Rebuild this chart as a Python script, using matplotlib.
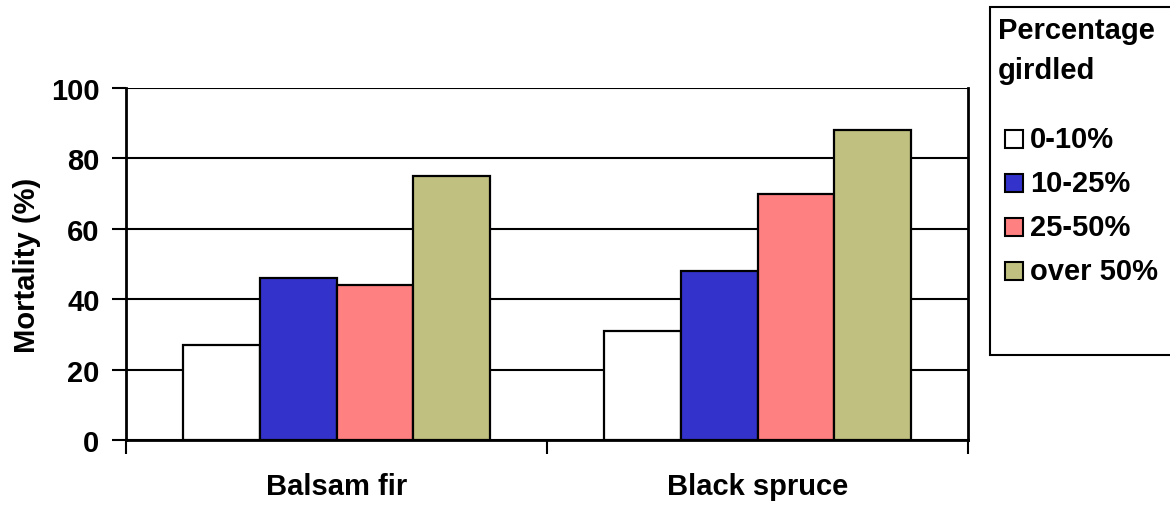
"""Grouped bar chart of tree mortality by percentage of stem girdled"""
import matplotlib.pyplot as plt
import numpy as np
from matplotlib.patches import Rectangle

species = ["Balsam fir", "Black spruce"]
girdled_classes = ["0-10%", "10-25%", "25-50%", "over 50%"]
mortality = [
    [27, 31],   # 0-10%
    [46, 48],   # 10-25%
    [44, 70],   # 25-50%
    [75, 88],   # over 50%
]
yticks = [0, 20, 40, 60, 80, 100]
colors = ["#FFFFFF", "#3333CC", "#FF8080", "#C0C080"]

plt.rcParams['font.family'] = ['Liberation Sans', 'DejaVu Sans']
plt.rcParams['font.weight'] = 'bold'
FS = 21

fig = plt.figure(figsize=(11.7, 5.06), dpi=100)
ax = fig.add_axes([0.1077, 0.1285, 0.7197, 0.6957])

x = np.arange(len(species))
width = 0.182
for i, vals in enumerate(mortality):
    ax.bar(x + (i - 1.5) * width, vals, width, color=colors[i],
           edgecolor='black', linewidth=1.6, zorder=3)

ax.set_xlim(-0.5, 1.5)
ax.set_ylim(0, 100)
ax.set_yticks(yticks)
ax.yaxis.grid(True, color='black', linewidth=1.5, zorder=0)
ax.set_ylabel("Mortality (%)", fontsize=FS, fontweight='bold', labelpad=7)

# category ticks sit on the boundaries, labels in the middle
ax.set_xticks([-0.5, 0.5, 1.5])
ax.set_xticklabels([])
ax.set_xticks(x, minor=True)
ax.set_xticklabels(species, minor=True, fontsize=FS, fontweight='bold')
ax.tick_params(axis='x', which='minor', length=0, pad=23)
ax.tick_params(axis='x', which='major', direction='out', length=10, width=1.5)
ax.tick_params(axis='y', direction='out', length=10, width=1.5,
               labelsize=FS, pad=9)

for side in ['left', 'right', 'bottom']:
    ax.spines[side].set_linewidth(2)
ax.spines['top'].set_visible(False)

# legend drawn as a boxed panel on the right
fig.patches.append(Rectangle((990 / 1170, 1 - 356 / 506), 0.3, 348 / 506,
                             transform=fig.transFigure, facecolor='white',
                             edgecolor='black', linewidth=1.5))
for j, line in enumerate(["Percentage", "girdled"]):
    fig.text(998 / 1170, 1 - (31 + j * 40) / 506, line, fontsize=FS,
             fontweight='bold', va='center', ha='left')
for i, label in enumerate(girdled_classes):
    yc = 1 - (140 + i * 44) / 506
    fig.patches.append(Rectangle((1005 / 1170, yc - 9 / 506), 18 / 1170, 18 / 506,
                                 transform=fig.transFigure, facecolor=colors[i],
                                 edgecolor='black', linewidth=1.5))
    fig.text(1030 / 1170, yc, label, fontsize=FS, fontweight='bold',
             va='center', ha='left')

fig.savefig("out.png", dpi=100)
